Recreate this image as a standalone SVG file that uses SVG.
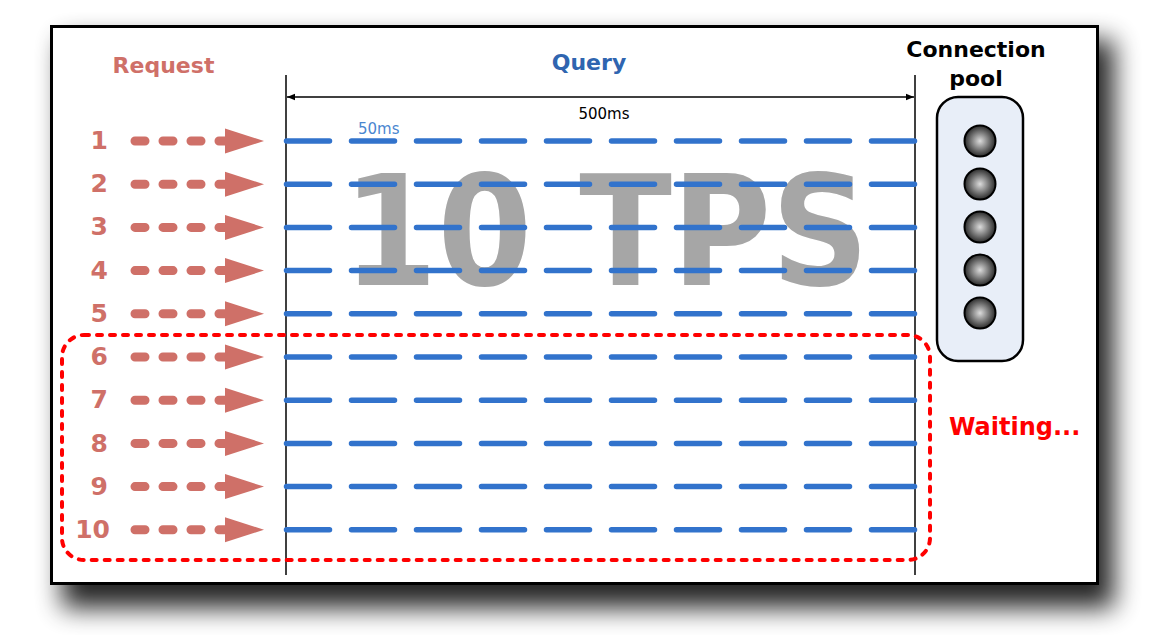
<svg xmlns="http://www.w3.org/2000/svg" width="1160" height="635" viewBox="0 0 1160 635">
<defs>
<filter id="shadow" x="-10%" y="-10%" width="130%" height="140%">
<feGaussianBlur stdDeviation="13"/>
</filter>
<radialGradient id="ball" cx="0.5" cy="0.5" r="0.5">
<stop offset="0" stop-color="#dcdcdc"/>
<stop offset="0.55" stop-color="#7a7a7a"/>
<stop offset="1" stop-color="#2a2a2a"/>
</radialGradient>
<marker id="dimEnd" viewBox="0 0 10 10" refX="10" refY="5" markerWidth="12" markerHeight="8" markerUnits="userSpaceOnUse" orient="auto-start-reverse">
<path d="M0,1 L10,5 L0,9 z" fill="#000"/>
</marker>
<g id="req">
<line x1="135" y1="0" x2="226" y2="0" stroke="#CF7068" stroke-width="9" stroke-linecap="round" stroke-dasharray="10 18"/>
<path d="M225,-12.5 L264,0 L225,12.5 z" fill="#CF7068"/>
</g>
<line id="q" x1="286.5" y1="0" x2="914.5" y2="0" stroke="#3273CC" stroke-width="5.5" stroke-linecap="round" stroke-dasharray="43 22"/>
</defs>
<style>
.num{font-family:"DejaVu Sans",Verdana,sans-serif;font-weight:bold;font-size:25px;fill:#CF7068;text-anchor:end}
.hdr{font-family:"DejaVu Sans",Verdana,sans-serif;font-weight:bold;font-size:22px;text-anchor:middle}
.ms{font-family:"DejaVu Sans",Verdana,sans-serif;font-size:15px}
.ball{fill:url(#ball);stroke:#000;stroke-width:2}
</style>
<rect width="1160" height="635" fill="#ffffff"/>
<rect x="62" y="40" width="1052" height="568" fill="#000" opacity="0.85" filter="url(#shadow)"/>
<rect id="frame" x="51.5" y="26.5" width="1046" height="557" fill="#fff" stroke="#000" stroke-width="3"/>

<text id="tps" x="343" y="285" font-family="DejaVu Sans,Verdana,sans-serif" font-weight="bold" font-size="154" fill="#A6A6A6" textLength="526" lengthAdjust="spacingAndGlyphs">10 TPS</text>

<g id="headers">
<text class="hdr" x="163.5" y="73" fill="#CF7068">Request</text>
<text class="hdr" x="589" y="70" fill="#2F65B0">Query</text>
<text class="hdr" x="976" y="57" font-size="21.5" fill="#000">Connection</text>
<text class="hdr" x="976" y="86" font-size="21.5" fill="#000">pool</text>
</g>

<g id="connectors">
<line x1="286" y1="75" x2="286" y2="575" stroke="#000" stroke-width="1.5"/>
<line x1="915" y1="75" x2="915" y2="575" stroke="#000" stroke-width="1.5"/>
<line x1="287" y1="97" x2="914" y2="97" stroke="#000" stroke-width="1.3" marker-start="url(#dimEnd)" marker-end="url(#dimEnd)"/>
<use href="#req" y="141"/><use href="#req" y="184.2"/><use href="#req" y="227.4"/><use href="#req" y="270.6"/><use href="#req" y="313.8"/>
<use href="#req" y="357"/><use href="#req" y="400.2"/><use href="#req" y="443.4"/><use href="#req" y="486.6"/><use href="#req" y="529.8"/>
<use href="#q" y="141"/><use href="#q" y="184.2"/><use href="#q" y="227.4"/><use href="#q" y="270.6"/><use href="#q" y="313.8"/>
<use href="#q" y="357"/><use href="#q" y="400.2"/><use href="#q" y="443.4"/><use href="#q" y="486.6"/><use href="#q" y="529.8"/>
</g>

<g id="labels">
<text class="ms" x="604" y="119" text-anchor="middle" fill="#000">500ms</text>
<text class="ms" x="358" y="134" fill="#4A86D0">50ms</text>
</g>

<g id="numbers">
<text class="num" x="108" y="149">1</text>
<text class="num" x="108" y="192">2</text>
<text class="num" x="108" y="235">3</text>
<text class="num" x="108" y="279">4</text>
<text class="num" x="108" y="322">5</text>
<text class="num" x="108" y="365">6</text>
<text class="num" x="108" y="408">7</text>
<text class="num" x="108" y="452">8</text>
<text class="num" x="108" y="495">9</text>
<text class="num" x="110" y="538">10</text>
</g>

<g id="pool">
<rect x="937" y="97" width="86" height="264" rx="21" fill="#E8EEF8" stroke="#000" stroke-width="2.5"/>
<circle class="ball" cx="980" cy="141" r="15.5"/>
<circle class="ball" cx="980" cy="184" r="15.5"/>
<circle class="ball" cx="980" cy="227" r="15.5"/>
<circle class="ball" cx="980" cy="270" r="15.5"/>
<circle class="ball" cx="980" cy="313" r="15.5"/>
</g>

<g id="waiting">
<rect x="62" y="335" width="868" height="225" rx="22" fill="none" stroke="#FF0000" stroke-width="4" stroke-linecap="round" stroke-dasharray="5 8"/>
<text x="949" y="435" font-family="DejaVu Sans,Verdana,sans-serif" font-weight="bold" font-size="24" fill="#FF0000">Waiting...</text>
</g>
</svg>
